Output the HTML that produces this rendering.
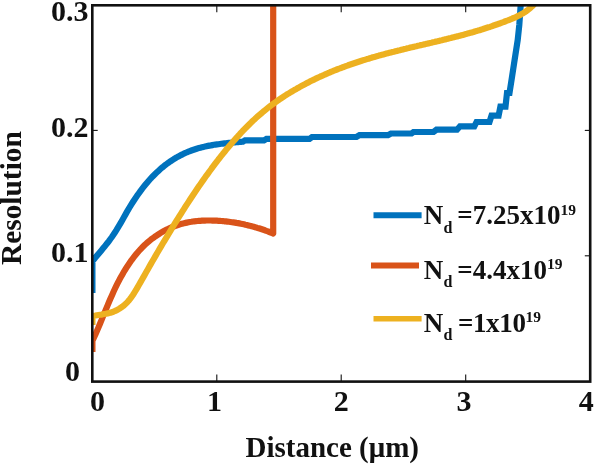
<!DOCTYPE html>
<html><head><meta charset="utf-8"><title>Resolution vs Distance</title>
<style>
html,body{margin:0;padding:0;background:#fff;}
svg{display:block;}
text{font-family:"Liberation Serif","DejaVu Serif",serif;font-weight:bold;fill:#111;}
.tk text{font-size:30px;}
.lg text{font-size:27px;}
</style></head><body>
<svg width="594" height="465" viewBox="0 0 594 465">
<rect width="594" height="465" fill="#fff"/>
<defs><clipPath id="c"><rect x="91.3" y="5.3" width="499.9" height="376.3"/></clipPath></defs>
<g stroke="#111" stroke-width="1.1"><line x1="216.8" y1="381.6" x2="216.8" y2="374.6"/><line x1="216.8" y1="5.3" x2="216.8" y2="12.3"/><line x1="341.2" y1="381.6" x2="341.2" y2="374.6"/><line x1="341.2" y1="5.3" x2="341.2" y2="12.3"/><line x1="465.7" y1="381.6" x2="465.7" y2="374.6"/><line x1="465.7" y1="5.3" x2="465.7" y2="12.3"/><line x1="92.3" y1="255.8" x2="97.7" y2="255.8"/><line x1="590.2" y1="255.8" x2="584.8000000000001" y2="255.8"/><line x1="92.3" y1="130.4" x2="97.7" y2="130.4"/><line x1="590.2" y1="130.4" x2="584.8000000000001" y2="130.4"/></g>
<g clip-path="url(#c)" fill="none" stroke-linejoin="round" stroke-linecap="butt">
<path d="M92.4,293.0 L92.4,261.3 L93.9,259.4 L95.4,257.6 L96.9,255.8 L98.4,254.0 L99.9,252.2 L101.4,250.4 L102.9,248.6 L104.4,246.8 L105.9,244.9 L107.4,243.0 L108.9,241.1 L110.4,239.0 L111.9,237.0 L113.4,234.8 L114.9,232.5 L116.4,230.2 L117.9,227.7 L119.4,225.2 L120.9,222.6 L122.4,219.9 L123.9,217.2 L125.4,214.6 L126.9,211.9 L128.4,209.4 L129.9,206.8 L131.4,204.4 L132.9,202.0 L134.4,199.7 L135.9,197.5 L137.4,195.3 L138.9,193.2 L140.4,191.1 L141.9,189.1 L143.4,187.2 L144.9,185.3 L146.4,183.5 L147.9,181.7 L149.4,180.0 L150.9,178.3 L152.4,176.7 L153.9,175.2 L155.4,173.7 L156.9,172.3 L158.4,170.9 L159.9,169.5 L161.4,168.2 L162.9,167.0 L164.4,165.7 L165.9,164.6 L167.4,163.4 L168.9,162.4 L170.4,161.3 L171.9,160.3 L173.4,159.4 L174.9,158.4 L176.4,157.6 L177.9,156.7 L179.4,155.9 L180.9,155.1 L182.4,154.4 L183.9,153.6 L185.4,153.0 L186.9,152.3 L188.4,151.7 L189.9,151.1 L191.4,150.5 L192.9,150.0 L194.4,149.5 L195.9,149.0 L197.4,148.5 L198.9,148.1 L200.4,147.7 L201.9,147.3 L203.4,146.9 L204.9,146.6 L206.4,146.2 L207.9,145.9 L209.4,145.6 L210.9,145.4 L212.4,145.1 L213.9,144.8 L215.4,144.6 L216.9,144.4 L218.4,144.2 L219.9,144.0 L221.4,143.8 L222.9,143.6 L224.4,143.4 L225.9,143.3 L227.4,143.1 L228.9,142.9 L230.4,142.8 L231.9,142.6 L233.4,142.5 L234.9,142.3 L236.4,142.2 L237.9,142.1 L239.4,141.9 L240.9,141.8 L242.4,141.6 L243.0,141.6 L245.0,140.4 L264.0,140.4 L266.5,138.9 L309.5,138.9 L312.0,137.0 L356.5,137.0 L359.5,135.2 L388.0,135.2 L391.0,133.5 L411.5,133.5 L413.5,132.0 L433.5,132.0 L436.5,129.7 L457.0,129.7 L460.0,126.3 L474.3,126.3 L476.5,122.0 L489.5,122.0 L491.5,115.7 L498.6,115.7 L500.4,106.7 L505.5,106.7 L507.0,93.0 L509.5,93.0 L512.0,77.0 L514.6,60.0 L517.7,40.0 L519.3,25.0 L520.9,2.0" stroke="#0072bd" stroke-width="6.2" stroke-linejoin="miter" stroke-miterlimit="3"/>
<path d="M92.4,352.0 L92.4,341.0 L93.9,337.8 L95.4,334.5 L96.9,331.1 L98.4,327.6 L99.9,324.0 L101.4,320.4 L102.9,316.7 L104.4,313.1 L105.9,309.5 L107.4,305.9 L108.9,302.3 L110.4,298.8 L111.9,295.4 L113.4,292.0 L114.9,288.8 L116.4,285.7 L117.9,282.7 L119.4,279.8 L120.9,277.1 L122.4,274.4 L123.9,271.8 L125.4,269.3 L126.9,266.9 L128.4,264.7 L129.9,262.5 L131.4,260.3 L132.9,258.3 L134.4,256.4 L135.9,254.5 L137.4,252.7 L138.9,251.0 L140.4,249.4 L141.9,247.8 L143.4,246.3 L144.9,244.8 L146.4,243.4 L147.9,242.1 L149.4,240.8 L150.9,239.6 L152.4,238.5 L153.9,237.4 L155.4,236.3 L156.9,235.3 L158.4,234.3 L159.9,233.3 L161.4,232.4 L162.9,231.6 L164.4,230.7 L165.9,229.9 L167.4,229.2 L168.9,228.5 L170.4,227.8 L171.9,227.2 L173.4,226.6 L174.9,226.0 L176.4,225.5 L177.9,225.0 L179.4,224.5 L180.9,224.1 L182.4,223.6 L183.9,223.3 L185.4,222.9 L186.9,222.6 L188.4,222.3 L189.9,222.0 L191.4,221.8 L192.9,221.5 L194.4,221.3 L195.9,221.2 L197.4,221.0 L198.9,220.9 L200.4,220.8 L201.9,220.7 L203.4,220.6 L204.9,220.6 L206.4,220.5 L207.9,220.5 L209.4,220.5 L210.9,220.5 L212.4,220.6 L213.9,220.6 L215.4,220.7 L216.9,220.7 L218.4,220.8 L219.9,220.9 L221.4,221.0 L222.9,221.1 L224.4,221.3 L225.9,221.4 L227.4,221.6 L228.9,221.8 L230.4,222.0 L231.9,222.2 L233.4,222.4 L234.9,222.6 L236.4,222.9 L237.9,223.1 L239.4,223.4 L240.9,223.7 L242.4,224.0 L243.9,224.3 L245.4,224.7 L246.9,225.0 L248.4,225.4 L249.9,225.8 L251.4,226.1 L252.9,226.6 L254.4,227.0 L255.9,227.4 L257.4,227.9 L258.9,228.3 L260.4,228.8 L261.9,229.3 L263.4,229.8 L264.9,230.3 L266.4,230.9 L267.9,231.4 L269.4,232.0 L270.9,232.6 L272.4,233.2 L273.2,233.5 L273.2,2.0" stroke="#d95319" stroke-width="6.2"/>
<path d="M92.4,325.0 L92.4,316.0 L93.9,315.7 L95.4,315.5 L96.9,315.2 L98.4,315.0 L99.9,314.8 L101.4,314.6 L102.9,314.3 L104.4,314.0 L105.9,313.8 L107.4,313.4 L108.9,313.1 L110.4,312.7 L111.9,312.2 L113.4,311.7 L114.9,311.0 L116.4,310.4 L117.9,309.6 L119.4,308.7 L120.9,307.7 L122.4,306.7 L123.9,305.5 L125.4,304.1 L126.9,302.6 L128.4,301.0 L129.9,299.1 L131.4,297.1 L132.9,295.0 L134.4,292.6 L135.9,290.2 L137.4,287.6 L138.9,285.0 L140.4,282.4 L141.9,279.7 L143.4,277.1 L144.9,274.4 L146.4,271.8 L147.9,269.2 L149.4,266.5 L150.9,263.9 L152.4,261.3 L153.9,258.7 L155.4,256.1 L156.9,253.5 L158.4,251.0 L159.9,248.4 L161.4,245.9 L162.9,243.3 L164.4,240.8 L165.9,238.3 L167.4,235.8 L168.9,233.3 L170.4,230.8 L171.9,228.3 L173.4,225.9 L174.9,223.4 L176.4,221.0 L177.9,218.6 L179.4,216.2 L180.9,213.8 L182.4,211.4 L183.9,209.1 L185.4,206.7 L186.9,204.4 L188.4,202.1 L189.9,199.8 L191.4,197.5 L192.9,195.2 L194.4,193.0 L195.9,190.8 L197.4,188.5 L198.9,186.3 L200.4,184.2 L201.9,182.0 L203.4,179.9 L204.9,177.8 L206.4,175.6 L207.9,173.6 L209.4,171.5 L210.9,169.5 L212.4,167.4 L213.9,165.4 L215.4,163.4 L216.9,161.5 L218.4,159.5 L219.9,157.6 L221.4,155.7 L222.9,153.8 L224.4,152.0 L225.9,150.1 L227.4,148.3 L228.9,146.5 L230.4,144.7 L231.9,143.0 L233.4,141.3 L234.9,139.6 L236.4,137.9 L237.9,136.2 L239.4,134.6 L240.9,132.9 L242.4,131.3 L243.9,129.8 L245.4,128.2 L246.9,126.7 L248.4,125.2 L249.9,123.7 L251.4,122.3 L252.9,120.8 L254.4,119.4 L255.9,118.0 L257.4,116.7 L258.9,115.4 L260.4,114.1 L261.9,112.8 L263.4,111.5 L264.9,110.3 L266.4,109.1 L267.9,107.9 L269.4,106.7 L270.9,105.6 L272.4,104.4 L273.9,103.3 L275.4,102.3 L276.9,101.2 L278.4,100.2 L279.9,99.1 L281.4,98.1 L282.9,97.1 L284.4,96.1 L285.9,95.2 L287.4,94.2 L288.9,93.3 L290.4,92.4 L291.9,91.5 L293.4,90.6 L294.9,89.7 L296.4,88.9 L297.9,88.0 L299.4,87.2 L300.9,86.3 L302.4,85.5 L303.9,84.7 L305.4,83.9 L306.9,83.1 L308.4,82.4 L309.9,81.6 L311.4,80.8 L312.9,80.1 L314.4,79.4 L315.9,78.6 L317.4,77.9 L318.9,77.2 L320.4,76.5 L321.9,75.9 L323.4,75.2 L324.9,74.5 L326.4,73.9 L327.9,73.2 L329.4,72.6 L330.9,71.9 L332.4,71.3 L333.9,70.7 L335.4,70.1 L336.9,69.5 L338.4,68.9 L339.9,68.4 L341.4,67.8 L342.9,67.2 L344.4,66.7 L345.9,66.1 L347.4,65.6 L348.9,65.0 L350.4,64.5 L351.9,64.0 L353.4,63.5 L354.9,63.0 L356.4,62.5 L357.9,62.0 L359.4,61.5 L360.9,61.0 L362.4,60.5 L363.9,60.1 L365.4,59.6 L366.9,59.1 L368.4,58.7 L369.9,58.2 L371.4,57.8 L372.9,57.3 L374.4,56.9 L375.9,56.5 L377.4,56.1 L378.9,55.6 L380.4,55.2 L381.9,54.8 L383.4,54.4 L384.9,54.0 L386.4,53.6 L387.9,53.2 L389.4,52.8 L390.9,52.4 L392.4,52.0 L393.9,51.7 L395.4,51.3 L396.9,50.9 L398.4,50.5 L399.9,50.2 L401.4,49.8 L402.9,49.4 L404.4,49.0 L405.9,48.7 L407.4,48.3 L408.9,48.0 L410.4,47.6 L411.9,47.2 L413.4,46.9 L414.9,46.5 L416.4,46.2 L417.9,45.8 L419.4,45.5 L420.9,45.1 L422.4,44.8 L423.9,44.4 L425.4,44.1 L426.9,43.7 L428.4,43.4 L429.9,43.0 L431.4,42.7 L432.9,42.3 L434.4,42.0 L435.9,41.6 L437.4,41.3 L438.9,40.9 L440.4,40.5 L441.9,40.2 L443.4,39.8 L444.9,39.4 L446.4,39.1 L447.9,38.7 L449.4,38.3 L450.9,38.0 L452.4,37.6 L453.9,37.2 L455.4,36.8 L456.9,36.4 L458.4,36.1 L459.9,35.7 L461.4,35.3 L462.9,34.9 L464.4,34.5 L465.9,34.1 L467.4,33.6 L468.9,33.2 L470.4,32.8 L471.9,32.4 L473.4,32.0 L474.9,31.5 L476.4,31.1 L477.9,30.6 L479.4,30.2 L480.9,29.7 L482.4,29.3 L483.9,28.8 L485.4,28.3 L486.9,27.8 L488.4,27.3 L489.9,26.9 L491.4,26.4 L492.9,25.8 L494.4,25.3 L495.9,24.8 L497.4,24.3 L498.9,23.7 L500.4,23.2 L501.9,22.6 L503.4,22.1 L504.9,21.5 L506.4,20.9 L507.9,20.4 L509.4,19.8 L510.9,19.2 L512.4,18.5 L513.9,17.9 L515.4,17.3 L516.9,16.6 L518.4,15.8 L519.9,15.1 L521.4,14.2 L522.9,13.3 L524.4,12.4 L525.9,11.4 L527.4,10.3 L528.9,9.1 L530.4,7.8 L531.9,6.5 L533.4,5.0 L534.9,3.4 L536.4,1.7 L537.0,1.0" stroke="#edb120" stroke-width="6.2"/>
</g>
<rect x="92.3" y="5.3" width="497.90000000000003" height="376.3" fill="none" stroke="#111" stroke-width="2.6"/>
<g class="tk"><text x="97.4" y="410.8" text-anchor="middle">0</text><text x="214.5" y="410.8" text-anchor="middle">1</text><text x="341.2" y="410.8" text-anchor="middle">2</text><text x="464.1" y="410.8" text-anchor="middle">3</text><text x="586.3" y="410.8" text-anchor="middle">4</text><text x="80" y="380.6" text-anchor="end">0</text><text x="88.4" y="262.0" text-anchor="end">0.1</text><text x="88.4" y="136.9" text-anchor="end">0.2</text><text x="88.4" y="21.3" text-anchor="end">0.3</text></g>
<text transform="translate(20.6,198.1) rotate(-90)" text-anchor="middle" font-size="29.4">Resolution</text>
<text x="332.3" y="457" text-anchor="middle" font-size="29">Distance (μm)</text>
<g class="lg">
<line x1="373.5" y1="215.2" x2="421.6" y2="215.2" stroke="#0072bd" stroke-width="6"/>
<line x1="371" y1="265.6" x2="419" y2="265.6" stroke="#d95319" stroke-width="6"/>
<line x1="373.5" y1="318.7" x2="421.6" y2="318.7" stroke="#edb120" stroke-width="5.4"/>
<text x="423.7" y="224.4">N<tspan font-size="16" dy="8.2" dx="0.3">d</tspan><tspan dy="-8.2" dx="-1.9"> =7.25x10</tspan><tspan font-size="15.5" dy="-9.4" dx="0">19</tspan></text>
<text x="423.7" y="278.8">N<tspan font-size="16" dy="8.2" dx="0.3">d</tspan><tspan dy="-8.2" dx="-1.9"> =4.4x10</tspan><tspan font-size="15.5" dy="-9.4" dx="0">19</tspan></text>
<text x="423.7" y="331.8">N<tspan font-size="16" dy="8.2" dx="0.3">d</tspan><tspan dy="-8.2" dx="-0.9" letter-spacing="-0.35"> =1x10</tspan><tspan font-size="15.5" dy="-9.4" dx="0">19</tspan></text>
</g>
</svg>
</body></html>
